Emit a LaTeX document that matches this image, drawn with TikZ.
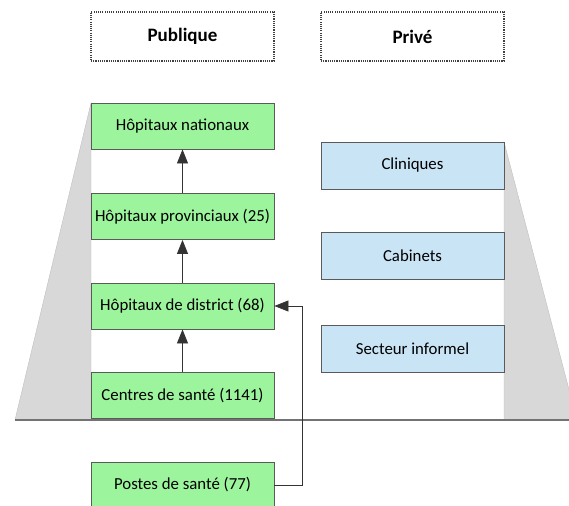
\documentclass[tikz,border=0pt]{standalone}
\usepackage{fontspec}
\setmainfont{Carlito}
\usetikzlibrary{arrows.meta}
\definecolor{pubgreen}{HTML}{9CF59C}
\definecolor{privblue}{HTML}{C9E4F5}
\definecolor{boxline}{HTML}{5A5A5A}
\definecolor{wedge}{HTML}{D8D8D8}
\begin{document}
\begin{tikzpicture}[x=1pt,y=-1pt,
  every node/.style={font=\fontsize{16.8}{19}\selectfont, inner sep=0pt},
  pubbox/.style={draw=boxline, line width=0.8pt, fill=pubgreen, minimum width=183pt, minimum height=46pt},
  privbox/.style={draw=boxline, line width=0.8pt, fill=privblue, minimum width=183pt, minimum height=47pt},
  headbox/.style={draw=black!75, dash pattern=on 1.1pt off 1.1pt, line width=1.1pt, minimum width=183pt, minimum height=49pt, font=\fontsize{19}{21}\selectfont\bfseries},
  arr/.style={draw=black!80, line width=0.8pt, -{Triangle[length=14pt,width=11pt]}},
  wedgefill/.style={fill=wedge, draw=black!25, line width=0.4pt}
]
\useasboundingbox (0,0) rectangle (569,505);
\clip (0,0) rectangle (569,505);

% side wedges of the two pyramids
\path[wedgefill] (91,103) -- (15,420) -- (91,420) -- cycle;
\path[wedgefill] (504,142) -- (577,420) -- (504,420) -- cycle;

% ground line
\draw[black!55, line width=1.2pt] (15,420) -- (569,420);

% column headings
\node[headbox] (pub) at (182.5,36.5) {Publique};
\node[headbox] (priv) at (412.5,36.5) {Privé};

% public sector
\node[pubbox] (nat)  at (182.5,126)   {Hôpitaux nationaux};
\node[pubbox] (prov) at (182.5,216.5) {Hôpitaux provinciaux (25)};
\node[pubbox] (dist) at (182.5,306)   {Hôpitaux de district (68)};
\node[pubbox] (cent) at (182.5,395.5) {Centres de santé (1141)};
\node[pubbox] (post) at (182.5,485)   {Postes de santé (77)};

% private sector
\node[privbox] (clin) at (412.5,165.5) {Cliniques};
\node[privbox] (cab)  at (412.5,255.5) {Cabinets};
\node[privbox] (sect) at (412.5,348.5) {Secteur informel};

% referral links
\draw[arr] (prov) -- (nat);
\draw[arr] (dist) -- (prov);
\draw[arr] (cent) -- (dist);
\coordinate (j) at (302,306);
\draw[arr] (post.east) -| (j) -- (dist.east);
\end{tikzpicture}
\end{document}
